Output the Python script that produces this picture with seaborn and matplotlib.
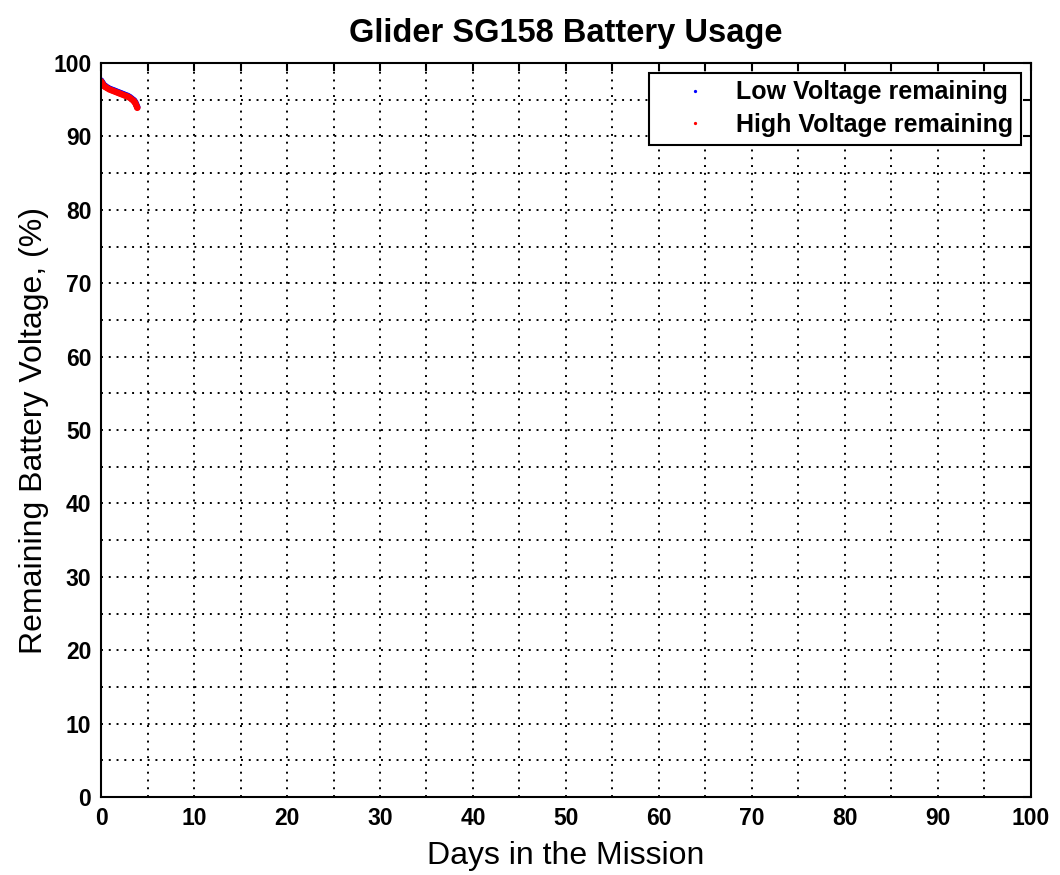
import matplotlib
matplotlib.use("Agg")
import matplotlib.pyplot as plt
from matplotlib.ticker import MultipleLocator
import seaborn as sns
import pandas as pd

# values
days = [0.0, 0.1, 0.2, 0.3, 0.4, 0.5, 0.7, 0.9, 1.1, 1.3, 1.5, 1.7, 1.9,
        2.1, 2.3, 2.5, 2.7, 2.9, 3.1, 3.3, 3.5, 3.6, 3.7, 3.8, 3.9]
high_v = [97.5, 97.3, 97.1, 96.9, 96.8, 96.7, 96.55, 96.4, 96.3, 96.2, 96.1,
          96.0, 95.9, 95.8, 95.7, 95.6, 95.5, 95.4, 95.25, 95.05, 94.85, 94.7,
          94.5, 94.2, 93.9]
low_v = [97.6, 97.4, 97.2, 97.0, 96.9, 96.8, 96.65, 96.5, 96.4, 96.3, 96.2,
         96.1, 96.0, 95.9, 95.8, 95.7, 95.6, 95.5, 95.35, 95.15, 94.95, 94.8,
         94.6, 94.3, 94.0]
series = ["Low Voltage remaining", "High Voltage remaining"]

df = pd.DataFrame({
    "day": days + days,
    "volt": low_v + high_v,
    "kind": [series[0]] * len(days) + [series[1]] * len(days),
})

sns.set_style("white")
plt.rcParams["font.family"] = ["Liberation Sans", "DejaVu Sans"]
plt.rcParams.update({"text.color": "black", "axes.labelcolor": "black",
                     "xtick.color": "black", "ytick.color": "black"})

fig = plt.figure(figsize=(10.6, 8.75), dpi=100)
ax = fig.add_axes([0.0953, 0.0891, 0.8773, 0.8389])

sns.scatterplot(data=df, x="day", y="volt", hue="kind", hue_order=series,
                palette=["#0000ff", "#ff0000"], marker="o", s=22,
                linewidth=0, ax=ax)

ax.set_xlim(0, 100)
ax.set_ylim(0, 100)
ax.xaxis.set_major_locator(MultipleLocator(10))
ax.yaxis.set_major_locator(MultipleLocator(10))
ax.xaxis.set_minor_locator(MultipleLocator(5))
ax.yaxis.set_minor_locator(MultipleLocator(5))
ax.grid(True, which="both", color="black", linestyle=(0, (1, 3)), linewidth=1.4)
ax.set_axisbelow(True)
ax.tick_params(which="both", direction="in", top=True, right=True,
               length=6, width=1.5, color="black")
ax.tick_params(which="major", labelsize=16.5, pad=7)
for lab in ax.get_xticklabels() + ax.get_yticklabels():
    lab.set_fontweight("bold")
for sp in ax.spines.values():
    sp.set_color("black")
    sp.set_linewidth(1.5)

ax.set_xlabel("Days in the Mission", fontsize=23, labelpad=8)
ax.set_ylabel("Remaining Battery Voltage, (%)", fontsize=23, labelpad=3)
ax.set_title("Glider SG158 Battery Usage", fontsize=23.5, fontweight="bold", pad=15)

leg = ax.legend(loc="upper right", prop={"weight": "bold", "size": 18},
                markerscale=0.5, frameon=True, fancybox=False, borderaxespad=0,
                handlelength=3.1, handletextpad=0.1, labelspacing=0.35,
                borderpad=0.3, bbox_to_anchor=(0.9892, 0.9864))
leg.get_frame().set_edgecolor("black")
leg.get_frame().set_linewidth(1.5)
leg.get_frame().set_alpha(1)

fig.savefig("out.png", dpi=100)
